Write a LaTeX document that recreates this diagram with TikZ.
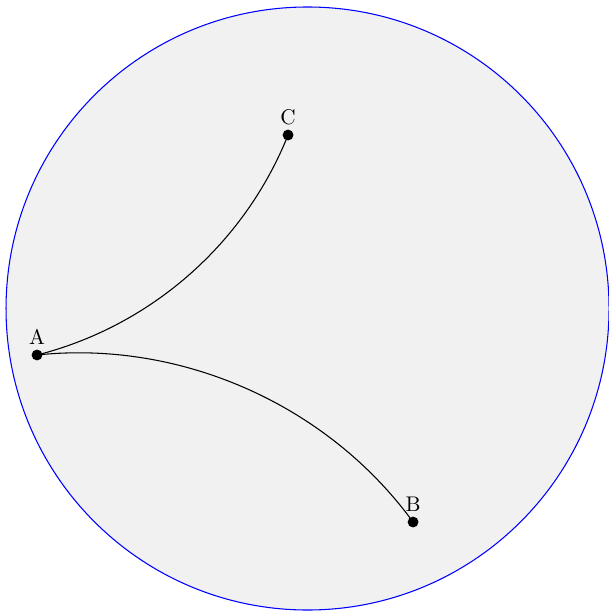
\documentclass[tikz,border=0pt]{standalone}
\usepackage{tikz}
\usetikzlibrary{positioning, calc}
\definecolor{diskfill}{RGB}{241, 241, 241}
\tikzset{
    disk/.style={draw=blue, fill=diskfill, line width=0.5pt},
    pt/.style={
        circle, fill=black, inner sep=0pt, minimum size=0.18cm
    },
    geo/.style={black, line width=0.5pt}
}
\begin{document}
\begin{tikzpicture}
    \useasboundingbox (-5.1,-5.033) rectangle (4.983,5.116);

    % Poincare disk
    \draw[disk] (0,0) circle (5cm);

    % Points
    \node[pt, label={[inner sep=2pt]above:A}] (A) at (-4.486,-0.771) {};
    \node[pt, label={[inner sep=2pt]above:B}] (B) at (1.750,-3.541) {};
    \node[pt, label={[inner sep=2pt]above:C}] (C) at (-0.323,2.877) {};

    % Geodesics
    \draw[geo] (A.center) to[bend right=27, looseness=0.9] (C.center);
    \draw[geo] (A.center) to[bend left=30, looseness=0.9] (B.center);

\end{tikzpicture}
\end{document}
